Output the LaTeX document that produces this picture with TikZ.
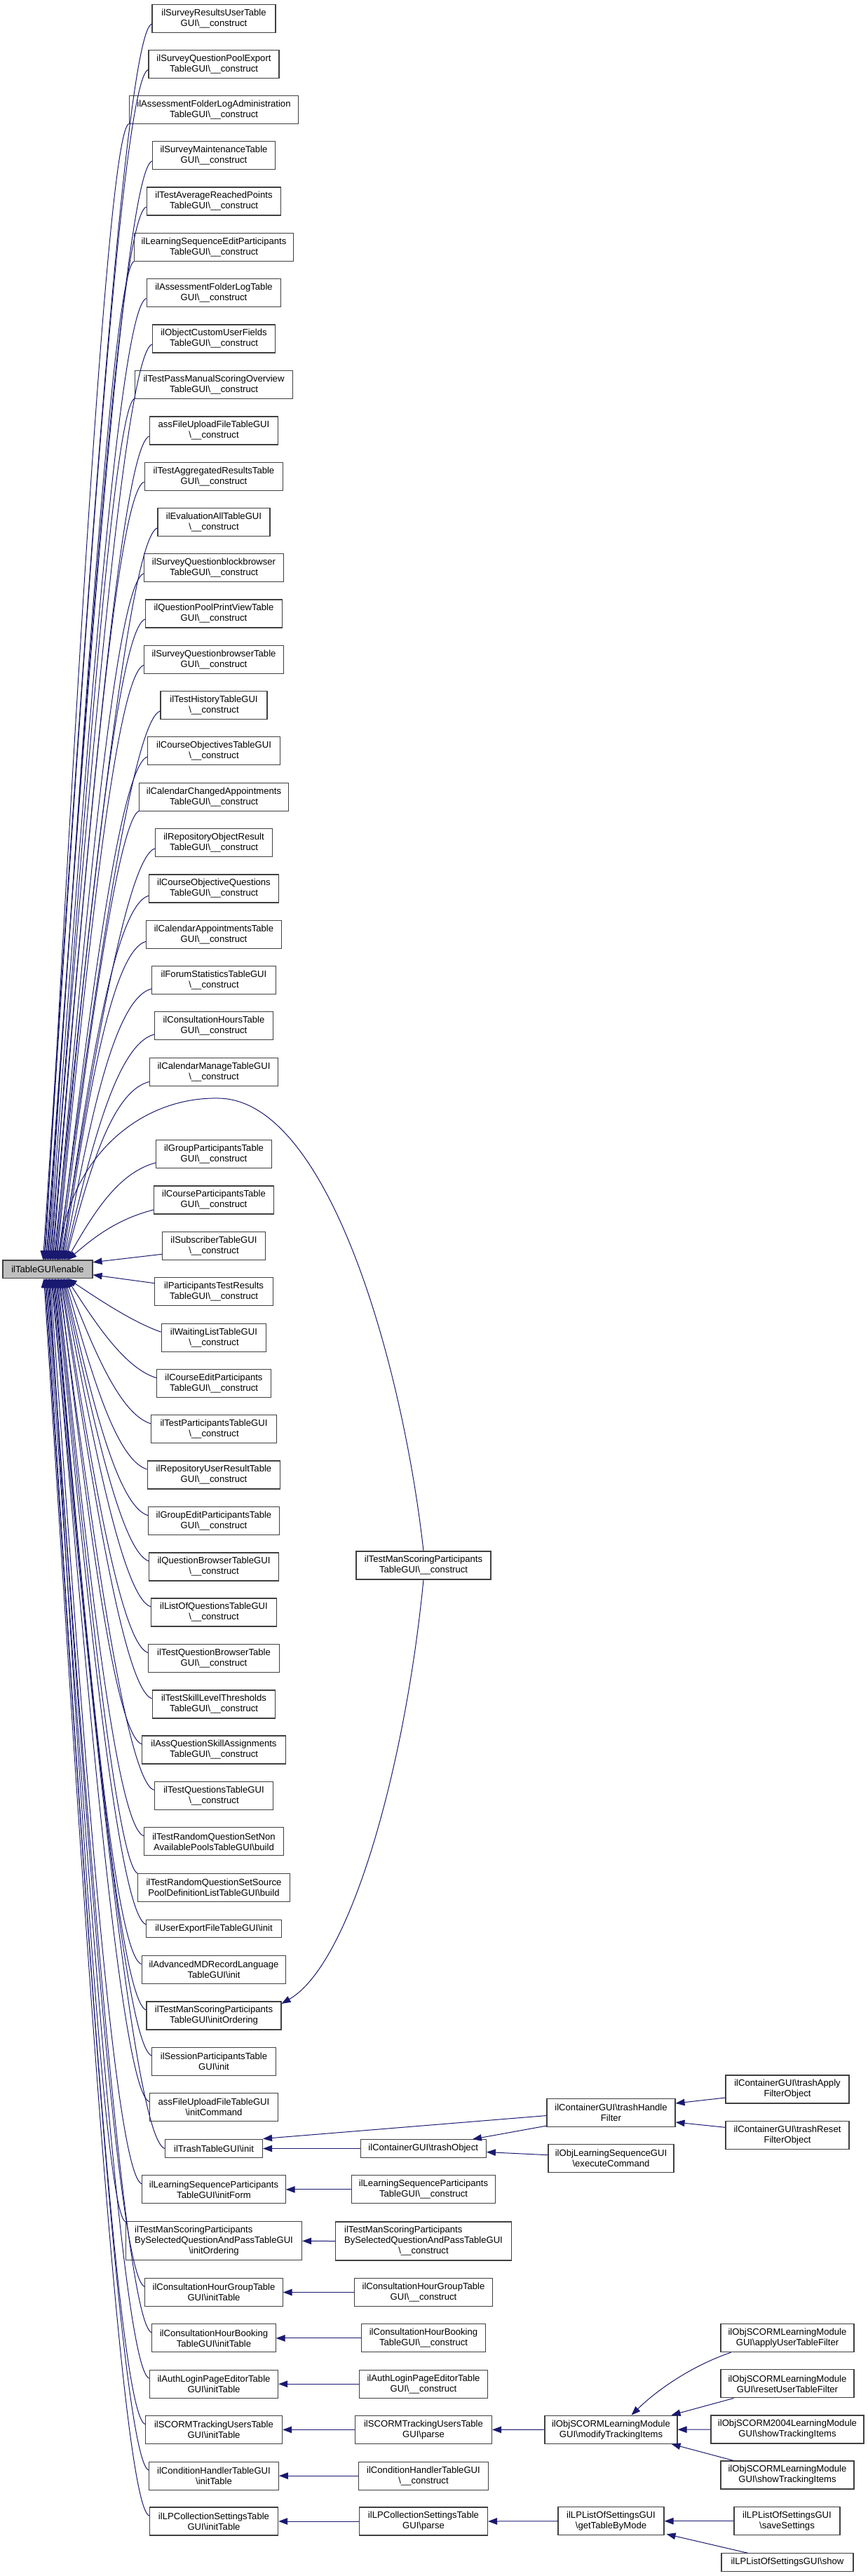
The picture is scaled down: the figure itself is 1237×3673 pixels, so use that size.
\documentclass[tikz,border=0pt]{standalone}
\usepackage{fontspec}
\setmainfont{Liberation Sans}
\usetikzlibrary{arrows.meta,calc}
\definecolor{edgec}{HTML}{191970}
\definecolor{boxc}{HTML}{404040}
\definecolor{hlc}{HTML}{BFBFBF}
\newcommand{\bsl}{\textbackslash}
\newcommand{\cns}{\textbackslash\_\_construct}
\newcommand{\firstleft}[2]{\setbox0\hbox{#2}\makebox[\wd0][l]{#1}}
\begin{document}
\begin{tikzpicture}[x=1pt,y=-1pt,
  box/.style={draw=boxc, line width=1.1pt, fill=white, align=center, inner xsep=2pt, inner ysep=1pt, font=\fontsize{13.1}{15}\selectfont, text=black},
  bA/.style={box, minimum height=25.5pt},
  bB/.style={box, minimum height=40pt},
  bC/.style={box, minimum height=55pt},
  edg/.style={draw=edgec, line width=1pt, -{Triangle[length=13pt,width=9.5pt]}}]
\useasboundingbox (0,0) rectangle (1237,3673);

% root
\node[bA, fill=hlc, minimum width=128pt] (en) at (68,1809.75) {ilTableGUI\bsl enable};

% column 1
\node[bB,minimum width=176pt] (n1) at (305,26.1) {ilSurveyResultsUserTable\\GUI\cns};
\node[bB,minimum width=186pt] (n2) at (305,91.2) {ilSurveyQuestionPoolExport\\TableGUI\cns};
\node[bB,minimum width=241.7pt] (n3) at (305,156.6) {ilAssessmentFolderLogAdministration\\TableGUI\cns};
\node[bB,minimum width=175.3pt] (n4) at (305,221.7) {ilSurveyMaintenanceTable\\GUI\cns};
\node[bB,minimum width=191.7pt] (n5) at (305,287) {ilTestAverageReachedPoints\\TableGUI\cns};
\node[bB,minimum width=227pt] (n6) at (305,352.8) {ilLearningSequenceEditParticipants\\TableGUI\cns};
\node[bB,minimum width=191.7pt] (n7) at (305,417.5) {ilAssessmentFolderLogTable\\GUI\cns};
\node[bB,minimum width=175.3pt] (n8) at (305,483) {ilObjectCustomUserFields\\TableGUI\cns};
\node[bB,minimum width=225.7pt] (n9) at (305,548.5) {ilTestPassManualScoringOverview\\TableGUI\cns};
\node[bB,minimum width=183.3pt] (n10) at (305,614) {assFileUploadFileTableGUI\\\cns};
\node[bB,minimum width=197.7pt] (n11) at (305,679.1) {ilTestAggregatedResultsTable\\GUI\cns};
\node[bB,minimum width=160pt] (n12) at (305,744.8) {ilEvaluationAllTableGUI\\\cns};
\node[bB,minimum width=199pt] (n13) at (305,809.8) {ilSurveyQuestionblockbrowser\\TableGUI\cns};
\node[bB,minimum width=195.3pt] (n14) at (305,875) {ilQuestionPoolPrintViewTable\\GUI\cns};
\node[bB,minimum width=199pt] (n15) at (305,940.5) {ilSurveyQuestionbrowserTable\\GUI\cns};
\node[bB,minimum width=152pt] (n16) at (305,1005.7) {ilTestHistoryTableGUI\\\cns};
\node[bB,minimum width=188.3pt] (n17) at (305,1070.9) {ilCourseObjectivesTableGUI\\\cns};
\node[bB,minimum width=212.3pt] (n18) at (305,1136.2) {ilCalendarChangedAppointments\\TableGUI\cns};
\node[bB,minimum width=167pt] (n19) at (305,1201.7) {ilRepositoryObjectResult\\TableGUI\cns};
\node[bB,minimum width=184.3pt] (n20) at (305,1267) {ilCourseObjectiveQuestions\\TableGUI\cns};
\node[bB,minimum width=192.3pt] (n21) at (305,1332.3) {ilCalendarAppointmentsTable\\GUI\cns};
\node[bB,minimum width=176.3pt] (n22) at (305,1397.8) {ilForumStatisticsTableGUI\\\cns};
\node[bB,minimum width=168.3pt] (n23) at (305,1462.8) {ilConsultationHoursTable\\GUI\cns};
\node[bB,minimum width=183.3pt] (n24) at (305,1528.4) {ilCalendarManageTableGUI\\\cns};
\node[bB,minimum width=164.3pt] (n25) at (305,1645.9) {ilGroupParticipantsTable\\GUI\cns};
\node[bB,minimum width=171pt] (n26) at (305,1711) {ilCourseParticipantsTable\\GUI\cns};
\node[bB,minimum width=147.3pt] (n27) at (305,1776.3) {ilSubscriberTableGUI\\\cns};
\node[bB,minimum width=168.3pt] (n28) at (305,1841.7) {ilParticipantsTestResults\\TableGUI\cns};
\node[bB,minimum width=149.7pt] (n29) at (305,1907.2) {ilWaitingListTableGUI\\\cns};
\node[bB,minimum width=163.3pt] (n30) at (305,1972.6) {ilCourseEditParticipants\\TableGUI\cns};
\node[bB,minimum width=179pt] (n31) at (305,2037.9) {ilTestParticipantsTableGUI\\\cns};
\node[bB,minimum width=189.7pt] (n32) at (305,2103) {ilRepositoryUserResultTable\\GUI\cns};
\node[bB,minimum width=187pt] (n33) at (305,2168.8) {ilGroupEditParticipantsTable\\GUI\cns};
\node[bB,minimum width=184.3pt] (n34) at (305,2234) {ilQuestionBrowserTableGUI\\\cns};
\node[bB,minimum width=179pt] (n35) at (305,2299) {ilListOfQuestionsTableGUI\\\cns};
\node[bB,minimum width=187pt] (n36) at (305,2364.5) {ilTestQuestionBrowserTable\\GUI\cns};
\node[bB,minimum width=175.7pt] (n37) at (305,2430) {ilTestSkillLevelThresholds\\TableGUI\cns};
\node[bB,minimum width=204.3pt] (n38) at (305,2495) {ilAssQuestionSkillAssignments\\TableGUI\cns};
\node[bB,minimum width=169.7pt] (n39) at (305,2560.4) {ilTestQuestionsTableGUI\\\cns};
\node[bB,minimum width=199pt] (n40) at (305,2625.8) {ilTestRandomQuestionSetNon\\AvailablePoolsTableGUI\bsl build};
\node[bB,minimum width=216.3pt] (n41) at (305,2691.3) {ilTestRandomQuestionSetSource\\PoolDefinitionListTableGUI\bsl build};
\node[bA,minimum width=192.3pt] (n42) at (305,2750) {ilUserExportFileTableGUI\bsl init};
\node[bB,minimum width=205.7pt] (n43) at (305,2808.5) {ilAdvancedMDRecordLanguage\\TableGUI\bsl init};
\node[bB,minimum width=192pt] (n44) at (305,2874) {ilTestManScoringParticipants\\TableGUI\bsl initOrdering};
\node[bB,minimum width=176.3pt] (n45) at (305,2939.1) {ilSessionParticipantsTable\\GUI\bsl init};
\node[bB,minimum width=183.3pt] (n46) at (305,3004.5) {assFileUploadFileTableGUI\\\bsl initCommand};
\node[bA,minimum width=139pt] (n47) at (305,3063.5) {ilTrashTableGUI\bsl init};
\node[bB,minimum width=204.3pt] (n48) at (305,3121.9) {ilLearningSequenceParticipants\\TableGUI\bsl initForm};
\node[bC,minimum width=251.3pt] (n49) at (305,3195.3) {\firstleft{ilTestManScoringParticipants}{BySelectedQuestionAndPassTableGUI}\\BySelectedQuestionAndPassTableGUI\\\bsl initOrdering};
\node[bB,minimum width=196.3pt] (n50) at (305,3268.5) {ilConsultationHourGroupTable\\GUI\bsl initTable};
\node[bB,minimum width=176.3pt] (n51) at (305,3333.9) {ilConsultationHourBooking\\TableGUI\bsl initTable};
\node[bB,minimum width=183.3pt] (n52) at (305,3399.2) {ilAuthLoginPageEditorTable\\GUI\bsl initTable};
\node[bB,minimum width=195.3pt] (n53) at (305,3464.4) {ilSCORMTrackingUsersTable\\GUI\bsl initTable};
\node[bB,minimum width=184.7pt] (n54) at (305,3530.1) {ilConditionHandlerTableGUI\\\bsl initTable};
\node[bB,minimum width=183.3pt] (n55) at (305,3595) {ilLPCollectionSettingsTable\\GUI\bsl initTable};

% column 2
\node[bB,minimum width=192pt] (tmsc) at (604,2232) {ilTestManScoringParticipants\\TableGUI\cns};
\node[bA,minimum width=179.3pt] (to) at (603.7,3063.5) {ilContainerGUI\bsl trashObject};
\node[bB,minimum width=204.3pt] (lspc) at (604,3121.9) {ilLearningSequenceParticipants\\TableGUI\cns};
\node[bC,minimum width=251pt] (tmsb) at (604,3195.5) {\firstleft{ilTestManScoringParticipants}{BySelectedQuestionAndPassTableGUI}\\BySelectedQuestionAndPassTableGUI\\\cns};
\node[bB,minimum width=196.7pt] (chgc) at (604,3268.5) {ilConsultationHourGroupTable\\GUI\cns};
\node[bB,minimum width=176.7pt] (chbc) at (604,3333.9) {ilConsultationHourBooking\\TableGUI\cns};
\node[bB,minimum width=183pt] (alpc) at (604,3399.2) {ilAuthLoginPageEditorTable\\GUI\cns};
\node[bB,minimum width=195pt] (stup) at (604,3464.4) {ilSCORMTrackingUsersTable\\GUI\bsl parse};
\node[bB,minimum width=184.3pt] (chtc) at (604,3530.1) {ilConditionHandlerTableGUI\\\cns};
\node[bB,minimum width=183pt] (lpcp) at (604,3595) {ilLPCollectionSettingsTable\\GUI\bsl parse};

% column 3
\node[bB,minimum width=183pt] (th) at (871.5,3012.5) {ilContainerGUI\bsl trashHandle\\Filter};
\node[bB,minimum width=179pt] (ec) at (871.5,3077.7) {ilObjLearningSequenceGUI\\\bsl executeCommand};
\node[bB,minimum width=189pt] (mti) at (871.5,3464.2) {ilObjSCORMLearningModule\\GUI\bsl modifyTrackingItems};
\node[bB,minimum width=151pt] (gtm) at (871.5,3594.7) {ilLPListOfSettingsGUI\\\bsl getTableByMode};

% column 4
\node[bB,minimum width=176pt] (ta) at (1123,2979) {ilContainerGUI\bsl trashApply\\FilterObject};
\node[bB,minimum width=176pt] (tr) at (1123,3044.3) {ilContainerGUI\bsl trashReset\\FilterObject};
\node[bB,minimum width=190pt] (au) at (1123,3333.7) {ilObjSCORMLearningModule\\GUI\bsl applyUserTableFilter};
\node[bB,minimum width=190pt] (ru) at (1123,3398.9) {ilObjSCORMLearningModule\\GUI\bsl resetUserTableFilter};
\node[bB,minimum width=218pt] (s2004) at (1123,3464) {ilObjSCORM2004LearningModule\\GUI\bsl showTrackingItems};
\node[bB,minimum width=190pt] (sti) at (1123,3529) {ilObjSCORMLearningModule\\GUI\bsl showTrackingItems};
\node[bB,minimum width=151pt] (ss) at (1122.5,3594.7) {ilLPListOfSettingsGUI\\\bsl saveSettings};
\node[bA,minimum width=188pt] (sh) at (1123,3653.5) {ilLPListOfSettingsGUI\bsl show};

% edges into root from above
\foreach \i/\xt/\sy/\dx in {1/58/8/-40, 2/59.4/8/-40, 3/60.8/20/-30, 4/62.2/8/-40, 5/63.6/8/-40, 6/65/20/-30, 7/66.4/8/-40, 8/67.8/8/-40, 9/69.2/20/-30, 10/70.6/8/-40, 11/72/8/-40, 12/73.4/8/-40, 13/74.8/8/-40, 14/76.2/8/-40, 15/77.6/8/-40, 16/79/8/-40, 17/80.4/8/-40, 18/81.8/20/-30, 19/83.2/8/-40, 20/84.6/10/-50, 21/86/10/-50, 22/87.4/12/-55, 23/88.8/12/-55, 24/90.2/14/-55, 25/91.6/12/-55, 26/93/14/-55} {
  \coordinate (s) at ($(n\i.west)+(0,\sy)$);
  \coordinate (t) at ($(en.north west)+(\xt,0)$);
  \coordinate (c) at ($(s)+(\dx,14)$);
  \draw[edg] (s) .. controls (c) and ($(t)!.5!(c)$) .. (t);
}
% edges into root from below
\foreach \i/\xt/\sy/\dx in {29/93/-8/-40, 30/91.7/-8/-45, 31/90.4/-8/-45, 32/89.1/-8/-45, 33/87.8/-8/-45, 34/86.5/-8/-40, 35/85.2/-8/-40, 36/83.9/-8/-40, 37/82.6/-8/-40, 38/81.3/-8/-40, 39/80/-8/-40, 40/78.7/-8/-40, 41/77.4/-20/-30, 42/76.1/-6/-40, 43/74.8/-8/-40, 44/73.5/-8/-40, 45/72.2/-8/-40, 46/70.9/-8/-40, 47/69.6/0/-45, 48/68.3/-8/-40, 49/67/-27.5/-30, 50/65.7/-8/-40, 51/64.4/-8/-40, 52/63.1/-8/-40, 53/61.8/-8/-40, 54/60.5/-8/-40, 55/59.2/-8/-40} {
  \coordinate (s) at ($(n\i.west)+(0,\sy)$);
  \coordinate (t) at ($(en.south west)+(\xt,0)$);
  \coordinate (c) at ($(s)+(\dx,-14)$);
  \draw[edg] (s) .. controls (c) and ($(t)!.5!(c)$) .. (t);
}
\draw[edg] ($(n27.west)+(0,12)$) -- ($(en.east)+(0,-10)$);
\draw[edg] ($(n28.west)+(0,-12)$) -- ($(en.east)+(0,8)$);

% long curves of ilTestManScoringParticipantsTableGUI::__construct
\draw[edg] (tmsc.north) .. controls (575,1950) and (470,1570) .. (313,1566)
   .. controls (200,1563) and (100,1650) .. ($(en.north west)+(80,0)$);
\draw[edg] (tmsc.south) .. controls (578,2520) and (500,2800) .. ($(n44.east)+(0,-17)$);

% lower right part
\draw[edg] (to.west) -- (n47.east);
\draw[edg] ($(th.west)+(0,4)$) -- ($(n47.east)+(0,-14)$);
\draw[edg] ($(th.south west)+(0,-2)$) -- ($(to.north east)+(-20,0)$);
\draw[edg] ($(ec.west)+(0,-5)$) -- ($(to.east)+(0,5)$);
\draw[edg] ($(ta.west)+(0,12)$) -- ($(th.east)+(0,-13.5)$);
\draw[edg] ($(tr.west)+(0,-11)$) -- ($(th.east)+(0,13.5)$);
\draw[edg] (lspc.west) -- (n48.east);
\draw[edg] (tmsb.west) -- (n49.east);
\draw[edg] (chgc.west) -- (n50.east);
\draw[edg] (chbc.west) -- (n51.east);
\draw[edg] (alpc.west) -- (n52.east);
\draw[edg] (stup.west) -- (n53.east);
\draw[edg] (chtc.west) -- (n54.east);
\draw[edg] (lpcp.west) -- (n55.east);
\draw[edg] (mti.west) -- (stup.east);
\draw[edg] ($(au.south west)+(15,0)$) .. controls (990,3372) and (940,3405) .. ($(mti.north)+(29,0)$);
\draw[edg] ($(ru.south west)+(19,0)$) -- ($(mti.north east)+(-9,0)$);
\draw[edg] (s2004.west) -- (mti.east);
\draw[edg] ($(sti.north west)+(19,0)$) -- ($(mti.south east)+(-9,0)$);
\draw[edg] (gtm.west) -- (lpcp.east);
\draw[edg] (ss.west) -- (gtm.east);
\draw[edg] ($(sh.north west)+(38,0)$) -- ($(gtm.south east)+(3,-2)$);
\end{tikzpicture}
\end{document}
